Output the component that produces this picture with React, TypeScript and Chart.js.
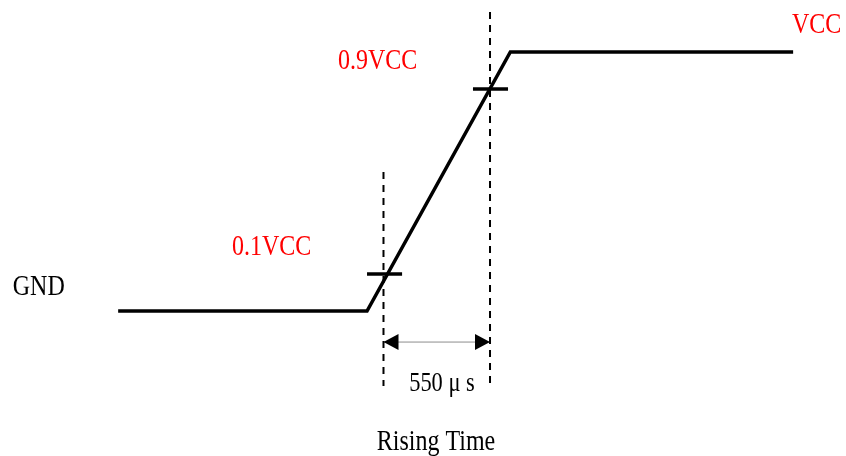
import React, { useEffect, useRef } from "react";
import { Chart, registerables } from "chart.js";

Chart.register(...registerables);

// Signal waveform (time in µs relative to the 0.1VCC crossing, level as fraction of VCC)
const signalTime = [-1370, -85, 655, 2115];
const signalLevel = [0, 0, 1, 1];

// Threshold tick marks drawn on the ramp (0.1VCC and 0.9VCC)
const thresholdLevels = [0.143, 0.857];
const thresholdTickStart = [-85, 462];
const thresholdTickEnd = [96, 643];

// Dashed vertical markers
const markerTimes = [0, 550];
const markerTop = [0.537, 1.154];
const markerBottom = -0.29;

// Rise-time dimension arrow
const riseTimeUs = 550;
const arrowLevel = -0.12;

// Text labels
const labelTexts = ["GND", "0.1VCC", "0.9VCC", "VCC", "550 μ s", "Rising Time"];
const labelX = [-1914, -782, -235, 2109, 302, 271];
const labelY = [0.062, 0.216, 0.934, 1.073, -0.309, -0.537];
const labelAlign = ["left", "left", "left", "left", "center", "center"];
const labelColors = ["#000000", "#ff0000", "#ff0000", "#ff0000", "#000000", "#000000"];
const labelSizes = [30, 30, 30, 30, 28, 30];

// Axis ranges (hidden axes)
const xRange = [-1980, 2388];
const yRange = [-0.56, 1.2008];

const labelPlugin = {
  id: "diagramLabels",
  afterDatasetsDraw(chart: any) {
    const { ctx, scales } = chart;
    const xs = scales.x;
    const ys = scales.y;
    // arrowheads at both ends of the dimension line
    const meta = chart.getDatasetMeta(chart.data.datasets.length - 1);
    if (meta && meta.data.length >= 2) {
      const p0 = meta.data[0];
      const p1 = meta.data[meta.data.length - 1];
      ctx.save();
      ctx.fillStyle = "#000";
      const L = 15;
      const H = 8;
      ctx.beginPath();
      ctx.moveTo(p0.x, p0.y);
      ctx.lineTo(p0.x + L, p0.y - H);
      ctx.lineTo(p0.x + L, p0.y + H);
      ctx.closePath();
      ctx.fill();
      ctx.beginPath();
      ctx.moveTo(p1.x, p1.y);
      ctx.lineTo(p1.x - L, p1.y - H);
      ctx.lineTo(p1.x - L, p1.y + H);
      ctx.closePath();
      ctx.fill();
      ctx.restore();
    }
    for (let i = 0; i < labelTexts.length; i++) {
      const px = xs.getPixelForValue(labelX[i]);
      const py = ys.getPixelForValue(labelY[i]);
      ctx.save();
      ctx.translate(px, py);
      ctx.scale(0.8, 1);
      ctx.font = `${labelSizes[i]}px "Liberation Serif", "DejaVu Serif", serif`;
      ctx.fillStyle = labelColors[i];
      ctx.textAlign = labelAlign[i];
      ctx.textBaseline = "alphabetic";
      ctx.fillText(labelTexts[i], 0, 0);
      ctx.restore();
    }
  },
};

export default function App() {
  const canvasRef = useRef<HTMLCanvasElement | null>(null);

  useEffect(() => {
    document.body.style.margin = "0";
    const canvas = canvasRef.current;
    if (!canvas) return;

    const lineDs = (data: any[], extra: any) => ({
      data,
      pointRadius: 0,
      pointHoverRadius: 0,
      tension: 0,
      fill: false,
      borderCapStyle: "butt",
      borderJoinStyle: "miter",
      ...extra,
    });

    const datasets: any[] = [];
    datasets.push(
      lineDs(
        signalTime.map((t, i) => ({ x: t, y: signalLevel[i] })),
        { borderColor: "#000", borderWidth: 3.5, label: "signal" }
      )
    );
    thresholdLevels.forEach((lvl, i) => {
      datasets.push(
        lineDs(
          [
            { x: thresholdTickStart[i], y: lvl },
            { x: thresholdTickEnd[i], y: lvl },
          ],
          { borderColor: "#000", borderWidth: 3.5, label: "tick" + i }
        )
      );
    });
    markerTimes.forEach((t, i) => {
      datasets.push(
        lineDs(
          [
            { x: t, y: markerTop[i] },
            { x: t, y: markerBottom },
          ],
          { borderColor: "#000", borderWidth: 2, borderDash: [7, 6], label: "marker" + i }
        )
      );
    });
    datasets.push(
      lineDs(
        [
          { x: 0, y: arrowLevel },
          { x: riseTimeUs, y: arrowLevel },
        ],
        { borderColor: "#8c8c8c", borderWidth: 1, label: "arrow" }
      )
    );

    const chart = new Chart(canvas, {
      type: "line",
      data: { datasets },
      options: {
        responsive: false,
        animation: false,
        layout: { padding: 0 },
        plugins: { legend: { display: false }, tooltip: { enabled: false } },
        events: [],
        scales: {
          x: { type: "linear", display: false, min: xRange[0], max: xRange[1] },
          y: { type: "linear", display: false, min: yRange[0], max: yRange[1] },
        },
      } as any,
      plugins: [labelPlugin as any],
    });
    return () => chart.destroy();
  }, []);

  return (
    <div style={{ position: "fixed", left: 0, top: 0, width: 846, height: 456, background: "#fff" }}>
      <canvas ref={canvasRef} width={846} height={456} style={{ width: 846, height: 456 }} />
    </div>
  );
}
